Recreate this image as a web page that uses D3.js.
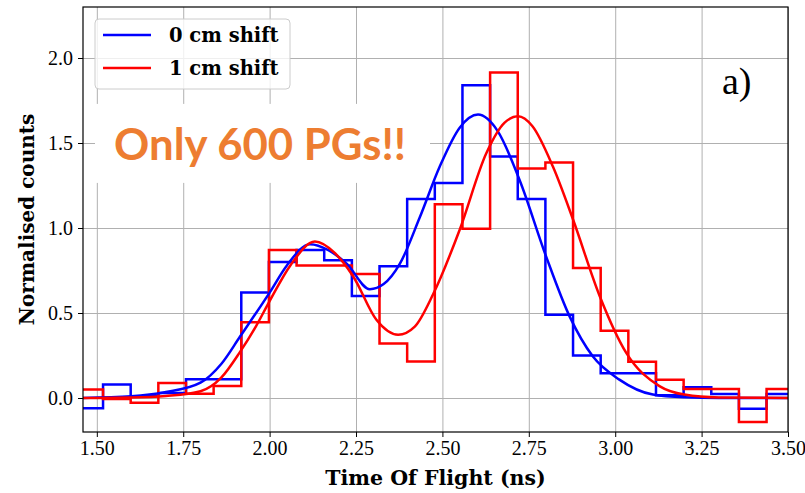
<!DOCTYPE html>
<html>
<head>
<meta charset="utf-8">
<script src="https://cdn.jsdelivr.net/npm/d3@7"></script>
<style>
  body { margin: 0; background: #fff; }
  .tick text { font-family: "Liberation Serif", serif; font-size: 20px; fill: #000; }
  .grid line { stroke: #b0b0b0; stroke-width: 1; }
  .grid .domain { display: none; }
</style>
</head>
<body>
<div id="chart"></div>
<script>
// Histogram bins (ns)
var binStart = 1.438,
    binWidth = 0.08;

// Normalised counts per bin
var shift0Counts = [-0.06, 0.08, 0.01, 0.03, 0.11, 0.11, 0.62, 0.80, 0.87, 0.81, 0.60, 0.775, 1.17,
                    1.265, 1.84, 1.42, 1.17, 0.49, 0.25, 0.145, 0.145, 0.016, 0.063, 0.024, -0.063, 0.024];
var shift1Counts = [0.05, -0.006, -0.028, 0.088, 0.025, 0.07, 0.445, 0.87, 0.78, 0.78, 0.73, 0.32, 0.215,
                    1.14, 0.996, 1.915, 1.35, 1.385, 0.765, 0.395, 0.213, 0.108, 0.053, 0.053, -0.141, 0.053];

// Fitted curves
var fit0X = [1.44, 1.60, 1.70, 1.80, 1.86, 1.914, 2.00, 2.05, 2.117, 2.17, 2.223, 2.29, 2.33, 2.377, 2.434,
             2.492, 2.55, 2.603, 2.66, 2.723, 2.80, 2.868, 2.935, 3.012, 3.109, 3.20, 3.30, 3.52];
var fit0Y = [0.0, 0.01, 0.035, 0.09, 0.20, 0.36, 0.62, 0.78, 0.905, 0.87, 0.79, 0.64, 0.67, 0.79, 1.06,
             1.36, 1.59, 1.667, 1.57, 1.284, 0.833, 0.48, 0.245, 0.108, 0.02, 0.004, 0.0, 0.0];
var fit1X = [1.44, 1.60, 1.70, 1.80, 1.86, 1.914, 1.96, 2.00, 2.06, 2.131, 2.19, 2.242, 2.309, 2.372, 2.42,
             2.473, 2.55, 2.627, 2.68, 2.719, 2.76, 2.82, 2.878, 2.955, 3.032, 3.128, 3.20, 3.30, 3.52];
var fit1Y = [0.0, 0.003, 0.012, 0.04, 0.12, 0.27, 0.42, 0.57, 0.78, 0.92, 0.85, 0.715, 0.46, 0.372, 0.42,
             0.61, 0.99, 1.44, 1.62, 1.657, 1.60, 1.36, 1.05, 0.60, 0.265, 0.07, 0.02, 0.003, 0.0];

var seriesNames = ['0 cm shift', '1 cm shift'];
var seriesColors = ['#0000ff', '#ff0000'];

var xTicks = [1.50, 1.75, 2.00, 2.25, 2.50, 2.75, 3.00, 3.25, 3.50];
var yTicks = [0.0, 0.5, 1.0, 1.5, 2.0];

var xLabel = 'Time Of Flight (ns)',
    yLabel = 'Normalised counts',
    note = 'Only 600 PGs!!',
    panel = 'a)';

// Setting size of plot
var W = 805, H = 493;
var margin = {left: 83, top: 7, right: 17, bottom: 61};
var width = W - margin.left - margin.right,
    height = H - margin.top - margin.bottom;

var svg = d3.select('#chart')
            .append('svg')
            .attr('width', W)
            .attr('height', H);

var g = svg.append('g')
           .attr('transform', 'translate(' + margin.left + ',' + margin.top + ')');

var x = d3.scaleLinear().domain([1.46, 3.50]).range([0, width]);
var y = d3.scaleLinear().domain([-0.2, 2.3]).range([height, 0]);

svg.append('defs').append('clipPath')
   .attr('id', 'plot-clip')
   .append('rect')
   .attr('width', width)
   .attr('height', height);

// Grid lines
g.append('g')
  .attr('class', 'grid')
  .attr('transform', 'translate(0,' + height + ')')
  .call(d3.axisBottom(x).tickValues(xTicks).tickSize(-height).tickFormat(''));

g.append('g')
  .attr('class', 'grid')
  .call(d3.axisLeft(y).tickValues(yTicks).tickSize(-width).tickFormat(''));

// Annotation box (hides the grid behind the note)
var noteG = g.append('g');

var plot = g.append('g').attr('clip-path', 'url(#plot-clip)');

// Step histograms
function histPoints(counts) {
  var pts = counts.map(function(c, i) { return [binStart + i * binWidth, c]; });
  pts.push([binStart + counts.length * binWidth, counts[counts.length - 1]]);
  return pts;
}

var stepLine = d3.line()
  .x(function(d) { return x(d[0]); })
  .y(function(d) { return y(d[1]); })
  .curve(d3.curveStepAfter);

[shift0Counts, shift1Counts].forEach(function(counts, i) {
  plot.append('path')
    .attr('d', stepLine(histPoints(counts)))
    .attr('fill', 'none')
    .attr('stroke', seriesColors[i])
    .attr('stroke-width', 2.5)
    .attr('stroke-linejoin', 'miter');
});

// Fit curves
var fitLine = d3.line()
  .x(function(d) { return x(d[0]); })
  .y(function(d) { return y(d[1]); })
  .curve(d3.curveMonotoneX);

[[fit0X, fit0Y], [fit1X, fit1Y]].forEach(function(f, i) {
  plot.append('path')
    .attr('d', fitLine(d3.zip(f[0], f[1])))
    .attr('fill', 'none')
    .attr('stroke', seriesColors[i])
    .attr('stroke-width', 2.5);
});

// Axes
g.append('g')
  .attr('transform', 'translate(0,' + height + ')')
  .call(d3.axisBottom(x).tickValues(xTicks).tickFormat(d3.format('.2f'))
          .tickSizeInner(5).tickSizeOuter(0).tickPadding(4));

g.append('g')
  .call(d3.axisLeft(y).tickValues(yTicks).tickFormat(d3.format('.1f'))
          .tickSizeInner(5).tickSizeOuter(0).tickPadding(5));

g.selectAll('.domain').remove();
g.selectAll('.tick line').filter(function() { return !this.parentNode.parentNode.classList.contains('grid'); })
  .attr('stroke', '#000').attr('stroke-width', 1);

// Frame
g.append('rect')
  .attr('width', width)
  .attr('height', height)
  .attr('fill', 'none')
  .attr('stroke', '#000')
  .attr('stroke-width', 1.2);

// Axis labels
svg.append('text')
  .attr('x', margin.left + width / 2)
  .attr('y', 485)
  .attr('text-anchor', 'middle')
  .style('font-family', '"DejaVu Serif", serif')
  .style('font-weight', 'bold')
  .style('font-size', '20.5px')
  .text(xLabel);

svg.append('text')
  .attr('transform', 'translate(34,' + (margin.top + height / 2) + ') rotate(-90)')
  .attr('text-anchor', 'middle')
  .style('font-family', '"DejaVu Serif", serif')
  .style('font-weight', 'bold')
  .style('font-size', '20px')
  .text(yLabel);

// Note
noteG.append('text')
  .attr('x', x(1.55))
  .attr('y', y(1.40))
  .style('font-family', 'Lato, sans-serif')
  .style('font-weight', 'bold')
  .style('font-size', '43px')
  .attr('fill', '#ed7d31')
  .attr('textLength', 292)
  .attr('lengthAdjust', 'spacingAndGlyphs')
  .text(note);

noteG.insert('rect', 'text')
  .attr('x', 12)
  .attr('y', y(1.73))
  .attr('width', 335)
  .attr('height', 79)
  .attr('fill', '#fff');

// Panel label
g.append('text')
  .attr('x', width - 66)
  .attr('y', y(1.79))
  .style('font-family', '"Liberation Serif", serif')
  .style('font-size', '38px')
  .text(panel);

// Legend
var legend = g.append('g').attr('transform', 'translate(12,12)');

legend.append('rect')
  .attr('width', 195)
  .attr('height', 70)
  .attr('rx', 4)
  .attr('fill', '#fff')
  .attr('fill-opacity', 0.8)
  .attr('stroke', '#cccccc');

var item = legend.selectAll('.item')
  .data(seriesNames)
  .enter()
  .append('g')
  .attr('transform', function(d, i) { return 'translate(0,' + (16 + i * 33) + ')'; });

item.append('line')
  .attr('x1', 8).attr('x2', 56)
  .attr('stroke', function(d, i) { return seriesColors[i]; })
  .attr('stroke-width', 2.5);

item.append('text')
  .attr('x', 74)
  .attr('dy', '0.35em')
  .style('font-family', '"DejaVu Serif", serif')
  .style('font-weight', 'bold')
  .style('font-size', '19.5px')
  .text(function(d) { return d; });
</script>
</body>
</html>
